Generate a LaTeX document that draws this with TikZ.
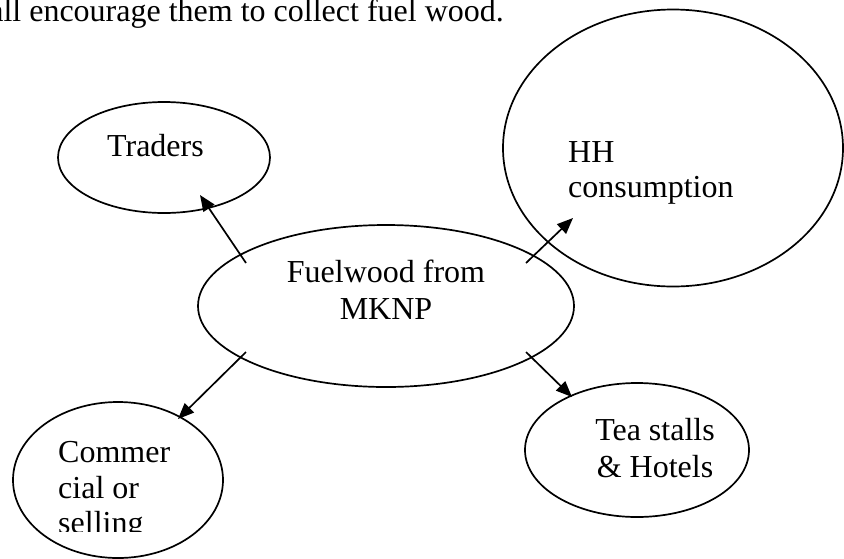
\documentclass[tikz,border=0pt]{standalone}
\usepackage{fontspec}
\setmainfont{Liberation Serif}
\usetikzlibrary{shapes.geometric,arrows.meta}

\begin{document}
\begin{tikzpicture}[x=1pt,y=-1pt,
  bubble/.style={ellipse,draw,line width=1.7pt,inner sep=0pt},
  txt/.style={inner sep=0pt,font=\fontsize{32}{36}\selectfont},
  flow/.style={line width=1.7pt,-{Triangle[length=16pt,width=13pt]}}]
\useasboundingbox (0,0) rectangle (844,558);
\clip (0,0) rectangle (844,558);

% line of running text above the diagram
\node[txt,anchor=base east] (lead) at (504,21) {all encourage them to collect fuel wood.};

% ellipses
\node[bubble,minimum width=212pt,minimum height=111pt] (tr) at (164,157.5) {};
\node[bubble,minimum width=340pt,minimum height=277pt] (hh) at (673,148) {};
\node[bubble,minimum width=376pt,minimum height=162pt] (fw) at (386,306) {};
\node[bubble,minimum width=210pt,minimum height=156pt] (cm) at (118,480) {};
\node[bubble,minimum width=224pt,minimum height=134pt] (ts) at (637,450) {};

% labels
\node[txt,anchor=base west] (trl) at (107,156) {Traders};
\node[txt,anchor=base west] (hh1) at (568,162) {HH};
\node[txt,anchor=base west] (hh2) at (568,197) {consumption};
\node[txt,anchor=base] (fw1) at (386,282) {Fuelwood from};
\node[txt,anchor=base] (fw2) at (386,319) {MKNP};
\node[txt,anchor=base] (ts1) at (655,440) {Tea stalls};
\node[txt,anchor=base] (ts2) at (655,477) {\& Hotels};
\node[txt,anchor=base west] (cm1) at (58,462) {Commer};
\node[txt,anchor=base west] (cm2) at (58,498) {cial or};
\begin{scope}
  \clip (0,0) rectangle (844,531);
  \node[txt,anchor=base west] (cm3) at (58,533) {selling};
\end{scope}

% arrow ends
\coordinate (fwnw) at (246,263);
\coordinate (fwne) at (526,263);
\coordinate (fwsw) at (246,352);
\coordinate (fwse) at (526,352);
\coordinate (trin) at (200,195);
\coordinate (hhin) at (573,218);
\coordinate (cmin) at (178,419);
\coordinate (tsin) at (572,397);

\draw[flow] (fwnw) -- (trin);
\draw[flow] (fwne) -- (hhin);
\draw[flow] (fwsw) -- (cmin);
\draw[flow] (fwse) -- (tsin);
\end{tikzpicture}
\end{document}
